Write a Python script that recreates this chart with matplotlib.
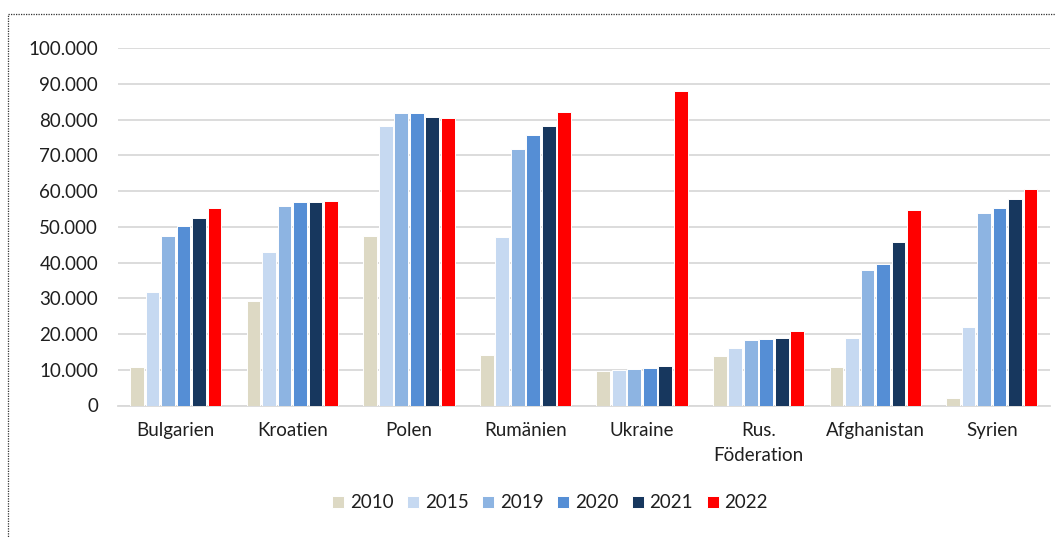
import numpy as np
import matplotlib
matplotlib.use('Agg')
import matplotlib.pyplot as plt
from matplotlib.lines import Line2D

# Data
countries = ['Bulgarien', 'Kroatien', 'Polen', 'Rumänien', 'Ukraine',
             'Rus.\nFöderation', 'Afghanistan', 'Syrien']
years = ['2010', '2015', '2019', '2020', '2021', '2022']
v2010 = [10800, 29300, 47500, 14100, 9600, 13800, 10700, 2100]
v2015 = [31700, 43000, 78100, 47200, 9800, 16000, 19000, 22000]
v2019 = [47300, 55700, 81800, 71800, 10300, 18300, 37800, 53800]
v2020 = [50200, 56800, 81700, 75600, 10600, 18500, 39600, 55300]
v2021 = [52500, 57000, 80700, 78300, 11000, 18900, 45800, 57900]
v2022 = [55200, 57200, 80400, 82100, 88000, 20800, 54800, 60600]
series = [v2010, v2015, v2019, v2020, v2021, v2022]
colors = ['#DDD9C4', '#C6D9F1', '#8DB4E2', '#558ED5', '#17375E', '#FF0000']

plt.rcParams['font.family'] = ['Lato', 'DejaVu Sans']
text_color = '#1f1f1f'

fig = plt.figure(figsize=(10.55, 5.38), dpi=100)
ax = fig.add_axes([117.5 / 1055, 1 - 405.5 / 538, (1050 - 117.5) / 1055, (405.5 - 48) / 538])

x = np.arange(len(countries))
pitch = 0.133
for i, (vals, col, yr) in enumerate(zip(series, colors, years)):
    ax.bar(x + (i - 2.5) * pitch, vals, width=0.118, color=col,
           edgecolor='white', linewidth=0.7, label=yr, zorder=3)

ax.set_xlim(-0.5, len(countries) - 0.5)
ax.set_ylim(0, 100000)
ax.set_yticks(np.arange(0, 100001, 10000))
ax.set_yticklabels([f'{v:,}'.replace(',', '.') for v in range(0, 100001, 10000)])
ax.set_xticks(x)
ax.set_xticklabels(countries, linespacing=1.55)

ax.grid(True, axis='y', color='#D9D9D9', linewidth=1.3, zorder=0)
ax.set_axisbelow(True)
for s in ['top', 'right', 'left']:
    ax.spines[s].set_visible(False)
ax.spines['bottom'].set_color('#D9D9D9')
ax.spines['bottom'].set_linewidth(1.3)
ax.tick_params(axis='both', length=0, labelsize=13.5, colors=text_color)
ax.tick_params(axis='y', pad=14)
ax.tick_params(axis='x', pad=12)

# Legend
fig.legend(loc='center', bbox_to_anchor=(550 / 1055, 1 - 503 / 538), ncol=6,
           frameon=False, fontsize=13.5, handlelength=0.65, handleheight=0.65,
           handletextpad=0.3, columnspacing=0.72, labelcolor=text_color)

# Dotted chart-area frame (cut off at right and bottom)
fx, fy = 8 / 1055, 1 - 14 / 538
fig.add_artist(Line2D([fx, 1.01], [fy, fy], transform=fig.transFigure,
                      color='#333333', linestyle=(0, (1, 1)), linewidth=0.9))
fig.add_artist(Line2D([fx, fx], [-0.01, fy], transform=fig.transFigure,
                      color='#333333', linestyle=(0, (1, 1)), linewidth=0.9))

fig.savefig('out.png', dpi=100)
